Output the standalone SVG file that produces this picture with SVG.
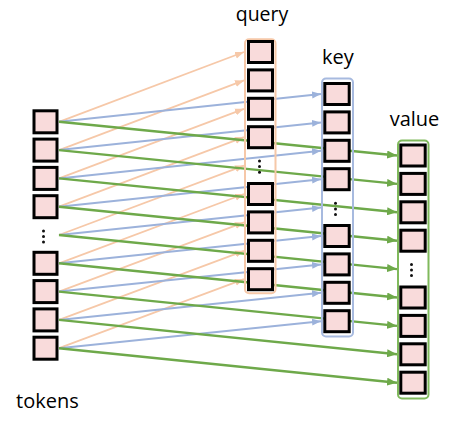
<svg xmlns="http://www.w3.org/2000/svg" width="462" height="425" viewBox="0 0 462 425">
<style>
.lbl{font-family:"Open Sans","Liberation Sans",sans-serif;font-size:20px;fill:#000}
.sq{fill:#f9dbdb;stroke:#000;stroke-width:3}
.q{stroke:#f6c8a8;stroke-width:1.8;fill:none}
.k{stroke:#9cb2db;stroke-width:2;fill:none}
.v{stroke:#6ea94a;stroke-width:2.4;fill:none}
.dot{fill:#111}
</style>
<defs>
<marker id="aq" markerUnits="userSpaceOnUse" markerWidth="9" markerHeight="8" refX="9" refY="4" orient="auto"><path d="M0,0.5 L9,4 L0,7.5 z" fill="#f6c8a8"/></marker>
<marker id="ak" markerUnits="userSpaceOnUse" markerWidth="9" markerHeight="8" refX="9" refY="4" orient="auto"><path d="M0,0.5 L9,4 L0,7.5 z" fill="#9cb2db"/></marker>
<marker id="av" markerUnits="userSpaceOnUse" markerWidth="10" markerHeight="8" refX="10" refY="4" orient="auto"><path d="M0,0 L10,4 L0,8 z" fill="#6ea94a"/></marker>
</defs>
<g id="connectors">
<g class="q" marker-end="url(#aq)">
<line x1="59" y1="121.8" x2="244" y2="52"/>
<line x1="59" y1="150.1" x2="244" y2="80.4"/>
<line x1="59" y1="178.4" x2="244" y2="108.8"/>
<line x1="59" y1="206.7" x2="244" y2="137.2"/>
<line x1="59" y1="235" x2="244" y2="165.6"/>
<line x1="59" y1="263.3" x2="244" y2="194"/>
<line x1="59" y1="291.6" x2="244" y2="222.4"/>
<line x1="59" y1="319.9" x2="244" y2="250.8"/>
<line x1="59" y1="348.2" x2="244" y2="279.2"/>
</g>
<g class="k" marker-end="url(#ak)">
<line x1="59" y1="121.8" x2="321" y2="94"/>
<line x1="59" y1="150.1" x2="321" y2="122.4"/>
<line x1="59" y1="178.4" x2="321" y2="150.8"/>
<line x1="59" y1="206.7" x2="321" y2="179.2"/>
<line x1="59" y1="235" x2="321" y2="207.6"/>
<line x1="59" y1="263.3" x2="321" y2="236"/>
<line x1="59" y1="291.6" x2="321" y2="264.4"/>
<line x1="59" y1="319.9" x2="321" y2="292.8"/>
<line x1="59" y1="348.2" x2="321" y2="321.2"/>
</g>
<g class="v" marker-end="url(#av)">
<line x1="59" y1="121.8" x2="397" y2="155.5"/>
<line x1="59" y1="150.1" x2="397" y2="183.9"/>
<line x1="59" y1="178.4" x2="397" y2="212.3"/>
<line x1="59" y1="206.7" x2="397" y2="240.7"/>
<line x1="59" y1="235" x2="397" y2="269.1"/>
<line x1="59" y1="263.3" x2="397" y2="297.5"/>
<line x1="59" y1="291.6" x2="397" y2="325.9"/>
<line x1="59" y1="319.9" x2="397" y2="354.3"/>
<line x1="59" y1="348.2" x2="397" y2="382.7"/>
</g>
</g>
<g id="tokens">
<rect class="sq" x="34" y="110.8" width="23" height="22"/>
<rect class="sq" x="34" y="139.1" width="23" height="22"/>
<rect class="sq" x="34" y="167.4" width="23" height="22"/>
<rect class="sq" x="34" y="195.7" width="23" height="22"/>
<circle class="dot" cx="43.5" cy="231" r="1.5"/><circle class="dot" cx="43.5" cy="236.5" r="1.5"/><circle class="dot" cx="43.5" cy="242" r="1.5"/>
<rect class="sq" x="34" y="252.3" width="23" height="22"/>
<rect class="sq" x="34" y="280.6" width="23" height="22"/>
<rect class="sq" x="34" y="308.9" width="23" height="22"/>
<rect class="sq" x="34" y="337.2" width="23" height="22"/>
<text class="lbl" x="16" y="408">tokens</text>
</g>
<g id="query">
<rect x="245" y="39.3" width="30.5" height="254" rx="4" fill="none" stroke="#f6c8a8" stroke-width="2"/>
<rect class="sq" x="248.5" y="41.5" width="24" height="21"/>
<rect class="sq" x="248.5" y="69.9" width="24" height="21"/>
<rect class="sq" x="248.5" y="98.3" width="24" height="21"/>
<rect class="sq" x="248.5" y="126.7" width="24" height="21"/>
<circle class="dot" cx="259.5" cy="161" r="1.5"/><circle class="dot" cx="259.5" cy="166.6" r="1.5"/><circle class="dot" cx="259.5" cy="172.2" r="1.5"/>
<rect class="sq" x="248.5" y="183.5" width="24" height="21"/>
<rect class="sq" x="248.5" y="211.9" width="24" height="21"/>
<rect class="sq" x="248.5" y="240.3" width="24" height="21"/>
<rect class="sq" x="248.5" y="268.7" width="24" height="21"/>
<text class="lbl" x="262" y="20.5" text-anchor="middle" style="font-size:19.5px">query</text>
</g>
<g id="key">
<rect x="322" y="78.5" width="31" height="258" rx="4" fill="none" stroke="#a7badf" stroke-width="2"/>
<rect class="sq" x="324.8" y="83.5" width="24.4" height="21"/>
<rect class="sq" x="324.8" y="111.9" width="24.4" height="21"/>
<rect class="sq" x="324.8" y="140.3" width="24.4" height="21"/>
<rect class="sq" x="324.8" y="168.7" width="24.4" height="21"/>
<circle class="dot" cx="335.5" cy="203.3" r="1.5"/><circle class="dot" cx="335.5" cy="208.9" r="1.5"/><circle class="dot" cx="335.5" cy="214.5" r="1.5"/>
<rect class="sq" x="324.8" y="225.5" width="24.4" height="21"/>
<rect class="sq" x="324.8" y="253.9" width="24.4" height="21"/>
<rect class="sq" x="324.8" y="282.3" width="24.4" height="21"/>
<rect class="sq" x="324.8" y="310.7" width="24.4" height="21"/>
<text class="lbl" x="338" y="64" text-anchor="middle">key</text>
</g>
<g id="value">
<rect x="398" y="140.5" width="30.5" height="258" rx="4" fill="none" stroke="#80b95c" stroke-width="2"/>
<rect class="sq" x="400.8" y="145" width="24.4" height="21"/>
<rect class="sq" x="400.8" y="173.4" width="24.4" height="21"/>
<rect class="sq" x="400.8" y="201.8" width="24.4" height="21"/>
<rect class="sq" x="400.8" y="230.2" width="24.4" height="21"/>
<circle class="dot" cx="411.5" cy="264.4" r="1.5"/><circle class="dot" cx="411.5" cy="270" r="1.5"/><circle class="dot" cx="411.5" cy="275.6" r="1.5"/>
<rect class="sq" x="400.8" y="287" width="24.4" height="21"/>
<rect class="sq" x="400.8" y="315.4" width="24.4" height="21"/>
<rect class="sq" x="400.8" y="343.8" width="24.4" height="21"/>
<rect class="sq" x="400.8" y="372.2" width="24.4" height="21"/>
<text class="lbl" x="414.5" y="126" text-anchor="middle">value</text>
</g>
</svg>
